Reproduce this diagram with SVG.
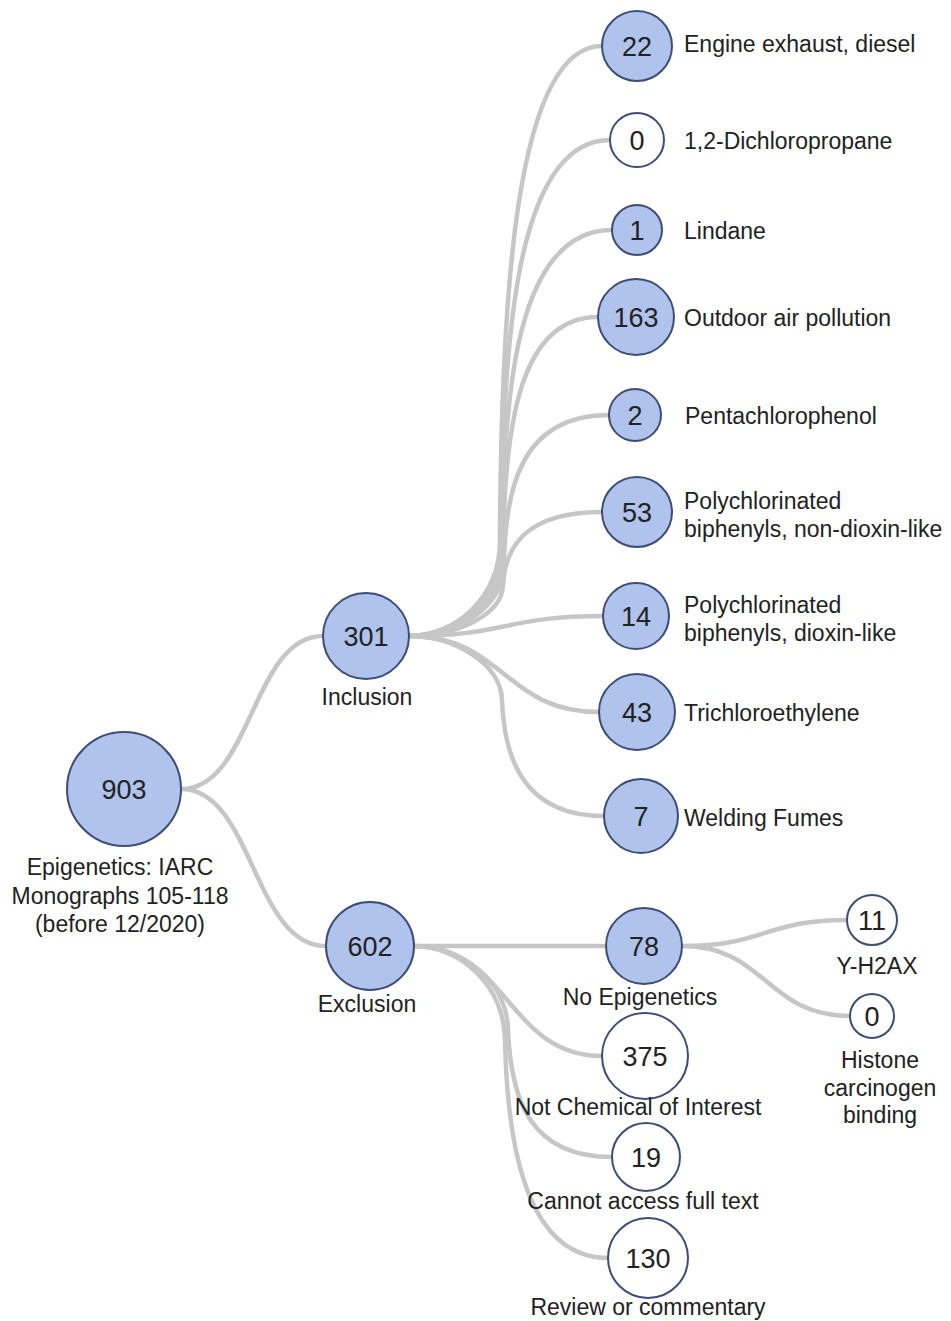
<svg xmlns="http://www.w3.org/2000/svg" width="951" height="1321" viewBox="0 0 951 1321">
<style>
.link{fill:none;stroke:#c6c6c6;stroke-width:4.5;stroke-linecap:round}
.b{fill:#afc3ec;stroke:#3e4d74;stroke-width:2}
.w{fill:#ffffff;stroke:#3e4d74;stroke-width:2}
.num{font-family:"Liberation Sans",Arial,sans-serif;font-size:27px;fill:#222;text-anchor:middle}
.lbl{font-family:"Liberation Sans",Arial,sans-serif;font-size:23px;fill:#222}
.c{text-anchor:middle}
</style>
<rect width="951" height="1321" fill="#ffffff"/>
<g id="connectors">
<path class="link" d="M181,789 C252,789 252,636 323,636"/>
<path class="link" d="M181,789 C253,789 253,946 326,946"/>
<path class="link" d="M409,636 C455,636 500,598 500,540 C501,300 515,46 602,46"/>
<path class="link" d="M409,636 C455,636 501,600 501,545 C502,340 516,140 610,140"/>
<path class="link" d="M409,636 C455,636 502,602 502,550 C503,390 517,230 612,230"/>
<path class="link" d="M409,636 C455,636 503,604 503,555 C504,430 518,317 598,317"/>
<path class="link" d="M409,636 C455,636 504,608 504,565 C505,490 520,415 609,415"/>
<path class="link" d="M409,636 C455,636 502,616 503,585 C505,550 522,512 602,512"/>
<path class="link" d="M409,636 C506,636 506,616 603,616"/>
<path class="link" d="M409,636 C504,636 504,712 599,712"/>
<path class="link" d="M409,636 C455,636 501,664 502,700 C504,760 525,816 604,816"/>
<path class="link" d="M414,946 L606,946"/>
<path class="link" d="M414,946 C508,946 508,1056 602,1056"/>
<path class="link" d="M414,946 C460,946 507,980 508,1030 C511,1100 530,1157 612,1157"/>
<path class="link" d="M414,946 C460,946 504,985 505,1040 C507,1140 525,1258 608,1258"/>
<path class="link" d="M682,946 C765,946 765,920 847,920"/>
<path class="link" d="M682,946 C766,946 766,1016 850,1016"/>
</g>
<g id="n903"><circle class="b" cx="124" cy="789" r="57"/><text class="num" x="124" y="799">903</text>
<text class="lbl c" x="120" y="875">Epigenetics: IARC</text><text class="lbl c" x="120" y="904">Monographs 105-118</text><text class="lbl c" x="120" y="932">(before 12/2020)</text></g>
<g id="n301"><circle class="b" cx="366" cy="636" r="43"/><text class="num" x="366" y="646">301</text><text class="lbl c" x="367" y="705">Inclusion</text></g>
<g id="n602"><circle class="b" cx="370" cy="946" r="44"/><text class="num" x="370" y="956">602</text><text class="lbl c" x="367" y="1012">Exclusion</text></g>
<g id="n22"><circle class="b" cx="637" cy="46" r="35"/><text class="num" x="637" y="56">22</text><text class="lbl" x="684" y="52">Engine exhaust, diesel</text></g>
<g id="n0a"><circle class="w" cx="637" cy="140" r="27"/><text class="num" x="637" y="150">0</text><text class="lbl" x="684" y="149">1,2-Dichloropropane</text></g>
<g id="n1"><circle class="b" cx="637" cy="230" r="25"/><text class="num" x="637" y="240">1</text><text class="lbl" x="684" y="239">Lindane</text></g>
<g id="n163"><circle class="b" cx="636" cy="317" r="38"/><text class="num" x="636" y="327">163</text><text class="lbl" x="684" y="326">Outdoor air pollution</text></g>
<g id="n2"><circle class="b" cx="635" cy="415" r="26"/><text class="num" x="635" y="425">2</text><text class="lbl" x="685" y="424">Pentachlorophenol</text></g>
<g id="n53"><circle class="b" cx="637" cy="512" r="35"/><text class="num" x="637" y="522">53</text><text class="lbl" x="684" y="509">Polychlorinated</text><text class="lbl" x="684" y="537">biphenyls, non-dioxin-like</text></g>
<g id="n14"><circle class="b" cx="636" cy="616" r="33"/><text class="num" x="636" y="626">14</text><text class="lbl" x="684" y="613">Polychlorinated</text><text class="lbl" x="684" y="641">biphenyls, dioxin-like</text></g>
<g id="n43"><circle class="b" cx="637" cy="712" r="38"/><text class="num" x="637" y="722">43</text><text class="lbl" x="684" y="721">Trichloroethylene</text></g>
<g id="n7"><circle class="b" cx="641" cy="816" r="37"/><text class="num" x="641" y="826">7</text><text class="lbl" x="684" y="826">Welding Fumes</text></g>
<g id="n78"><circle class="b" cx="644" cy="946" r="38"/><text class="num" x="644" y="956">78</text><text class="lbl c" x="640" y="1005">No Epigenetics</text></g>
<g id="n375"><circle class="w" cx="645" cy="1056" r="43"/><text class="num" x="645" y="1066">375</text><text class="lbl c" x="638" y="1115">Not Chemical of Interest</text></g>
<g id="n19"><circle class="w" cx="646" cy="1157" r="34"/><text class="num" x="646" y="1167">19</text><text class="lbl c" x="643" y="1209">Cannot access full text</text></g>
<g id="n130"><circle class="w" cx="648" cy="1258" r="40"/><text class="num" x="648" y="1268">130</text><text class="lbl c" x="648" y="1315">Review or commentary</text></g>
<g id="n11"><circle class="w" cx="872" cy="920" r="25"/><text class="num" x="872" y="930">11</text><text class="lbl c" x="877" y="974">Y-H2AX</text></g>
<g id="n0b"><circle class="w" cx="872" cy="1016" r="22"/><text class="num" x="872" y="1026">0</text><text class="lbl c" x="880" y="1068">Histone</text><text class="lbl c" x="880" y="1096">carcinogen</text><text class="lbl c" x="880" y="1123">binding</text></g>
</svg>
